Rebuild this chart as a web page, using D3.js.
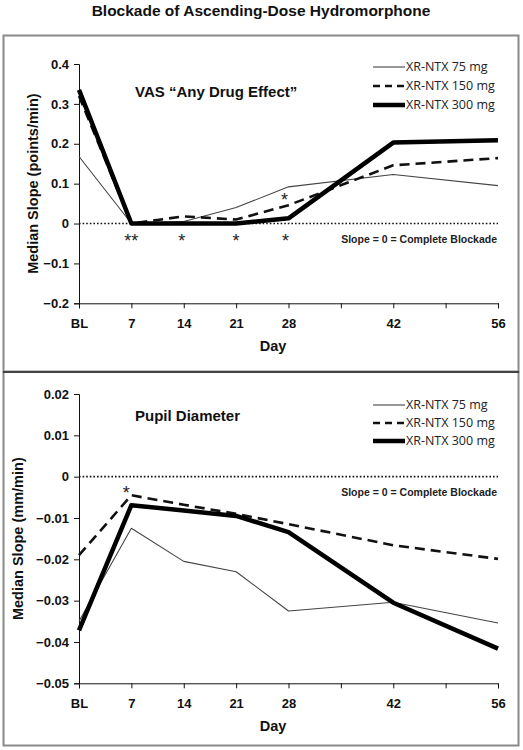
<!DOCTYPE html>
<html><head><meta charset="utf-8">
<script src="https://cdn.jsdelivr.net/npm/d3@7"></script>
<style>body{margin:0;background:#fff}svg{display:block}</style>
</head><body><svg id="c" width="523" height="750"></svg>
<script>
const days = [0, 7, 14, 21, 28, 42, 56];
const xTicks = [0, 7, 14, 21, 28, 35, 42, 49, 56];
const xTickLabels = ["BL", "7", "14", "21", "28", "", "42", "", "56"];
const seriesNames = ["XR-NTX 75 mg", "XR-NTX 150 mg", "XR-NTX 300 mg"];
// VAS "Any Drug Effect"
const vas75 = [0.168, 0.0, 0.005, 0.04, 0.092, 0.123, 0.095];
const vas150 = [0.32, 0.0, 0.018, 0.01, 0.046, 0.146, 0.164];
const vas300 = [0.335, 0.0, 0.0, 0.0, 0.013, 0.203, 0.209];
const vasTicks = [0.4, 0.3, 0.2, 0.1, 0, -0.1, -0.2];
// Pupil diameter
const pup75 = [-0.035, -0.0125, -0.0205, -0.023, -0.0325, -0.0304, -0.0354];
const pup150 = [-0.019, -0.0045, -0.0068, -0.009, -0.0115, -0.0166, -0.0199];
const pup300 = [-0.0372, -0.0069, -0.0082, -0.0095, -0.0134, -0.0305, -0.0416];
const pupTicks = [0.02, 0.01, 0, -0.01, -0.02, -0.03, -0.04, -0.05];

const svg = d3.select("#c");
const FONT = "'Liberation Sans', Arial, sans-serif";
const LFONT = "'Open Sans', 'Noto Sans', sans-serif";

svg.append("text").attr("x", 261).attr("y", 16).attr("text-anchor", "middle")
  .attr("font-family", FONT).attr("font-weight", "bold").attr("font-size", 15.5)
  .attr("fill", "#111").text("Blockade of Ascending-Dose Hydromorphone");

// panel borders
svg.append("rect").attr("x", 3.5).attr("y", 35.5).attr("width", 515).attr("height", 336)
  .attr("fill", "none").attr("stroke", "#8a8a8a").attr("stroke-width", 2);
svg.append("rect").attr("x", 3.5).attr("y", 372).attr("width", 515).attr("height", 373.5)
  .attr("fill", "none").attr("stroke", "#8a8a8a").attr("stroke-width", 2);
svg.append("line").attr("x1", 3).attr("x2", 519).attr("y1", 372).attr("y2", 372)
  .attr("stroke", "#444").attr("stroke-width", 2);

const styles = [
  {w: 1.1, c: "#444", dash: null},
  {w: 2.6, c: "#111", dash: "10,6"},
  {w: 4.5, c: "#000", dash: null}
];

function panel(cfg) {
  const x = d3.scaleLinear().domain([0, 56]).range([79, 498]);
  const y = d3.scaleLinear().domain(cfg.domain).range(cfg.range);
  const g = svg.append("g");
  // y axis
  const ya = g.append("g").attr("transform", "translate(79,0)")
    .call(d3.axisLeft(y).tickValues(cfg.ticks).tickSize(5).tickFormat(d => d3.format(cfg.fmt)(d)));
  ya.select(".domain").attr("stroke", "#111");
  ya.selectAll(".tick line").attr("stroke", "#111");
  ya.selectAll(".tick text").attr("font-family", FONT).attr("font-weight", "bold")
    .attr("font-size", 13).attr("fill", "#111").attr("x", -10);
  // x axis
  const xa = g.append("g").attr("transform", `translate(0,${cfg.range[0]})`)
    .call(d3.axisBottom(x).tickValues(xTicks).tickSize(5).tickFormat((d, i) => xTickLabels[i]));
  xa.select(".domain").attr("stroke", "#111");
  xa.selectAll(".tick line").attr("stroke", "#111");
  xa.selectAll(".tick text").attr("font-family", FONT).attr("font-weight", "bold")
    .attr("font-size", 13).attr("fill", "#111").attr("y", 15);
  // axis titles
  g.append("text").attr("x", 273).attr("y", cfg.range[0] + 48).attr("text-anchor", "middle")
    .attr("font-family", FONT).attr("font-weight", "bold").attr("font-size", 14.5)
    .attr("fill", "#111").text("Day");
  g.append("text").attr("transform", `translate(${cfg.ylabX},${(cfg.range[0] + cfg.range[1]) / 2}) rotate(-90)`)
    .attr("text-anchor", "middle").attr("dy", "0.35em")
    .attr("font-family", FONT).attr("font-weight", "bold").attr("font-size", 14.5)
    .attr("fill", "#111").text(cfg.ylabel);
  // zero reference
  g.append("line").attr("x1", 79).attr("x2", 498).attr("y1", y(0)).attr("y2", y(0))
    .attr("stroke", "#111").attr("stroke-width", 1.6).attr("stroke-dasharray", "1.6,2");
  g.append("text").attr("x", 497).attr("y", y(0) + 19).attr("text-anchor", "end")
    .attr("font-family", FONT).attr("font-weight", "bold").attr("font-size", 10.5)
    .attr("fill", "#222").text("Slope = 0 = Complete Blockade");
  // series
  const line = d3.line().x((d, i) => x(days[i])).y(d => y(d));
  cfg.series.forEach((s, k) => {
    g.append("path").datum(s).attr("d", line).attr("fill", "none")
      .attr("stroke", styles[k].c).attr("stroke-width", styles[k].w)
      .attr("stroke-dasharray", styles[k].dash).attr("stroke-linejoin", "round");
  });
  // panel title
  g.append("text").attr("x", 135).attr("y", cfg.titleY).attr("dy", "0.35em")
    .attr("font-family", FONT).attr("font-weight", "bold").attr("font-size", 15)
    .attr("fill", "#111").text(cfg.title);
  // legend
  seriesNames.forEach((n, k) => {
    const ly = cfg.legY + k * cfg.legStep;
    g.append("line").attr("x1", 373).attr("x2", 405).attr("y1", ly).attr("y2", ly)
      .attr("stroke", styles[k].c).attr("stroke-width", styles[k].w)
      .attr("stroke-dasharray", k === 1 ? "7,5" : null);
    g.append("text").attr("x", 406).attr("y", ly).attr("dy", "0.35em")
      .attr("font-family", LFONT).attr("font-size", 12.5).attr("fill", "#222").text(n);
  });
  // asterisks (dy = offset of glyph centre from zero line)
  const fs = 18;
  cfg.stars.forEach(s => {
    g.append("text").attr("x", x(s.day) + s.dx).attr("y", y(0) + s.dy + fs * 0.58)
      .attr("text-anchor", "middle").attr("font-family", FONT).attr("font-size", fs)
      .attr("fill", "#222").text(s.t);
  });
}

panel({
  domain: [-0.2, 0.4], range: [303.3, 64], ticks: vasTicks, fmt: "",
  ylabel: "Median Slope (points/min)", ylabX: 33,
  series: [vas75, vas150, vas300],
  title: "VAS \u201cAny Drug Effect\u201d", titleY: 92,
  legY: 67, legStep: 19,
  stars: [{day: 7, dx: 0, dy: 13, t: "**"}, {day: 14, dx: -2, dy: 13, t: "*"},
          {day: 21, dx: 0, dy: 13, t: "*"}, {day: 28, dx: -3, dy: 13, t: "*"},
          {day: 28, dx: -4, dy: -28, t: "*"}]
});

panel({
  domain: [-0.05, 0.02], range: [683.3, 394], ticks: pupTicks, fmt: "",
  ylabel: "Median Slope (mm/min)", ylabX: 18,
  series: [pup75, pup150, pup300],
  title: "Pupil Diameter", titleY: 416,
  legY: 405, legStep: 18,
  stars: [{day: 7, dx: -5, dy: 11.5, t: "*"}]
});
</script></body></html>
